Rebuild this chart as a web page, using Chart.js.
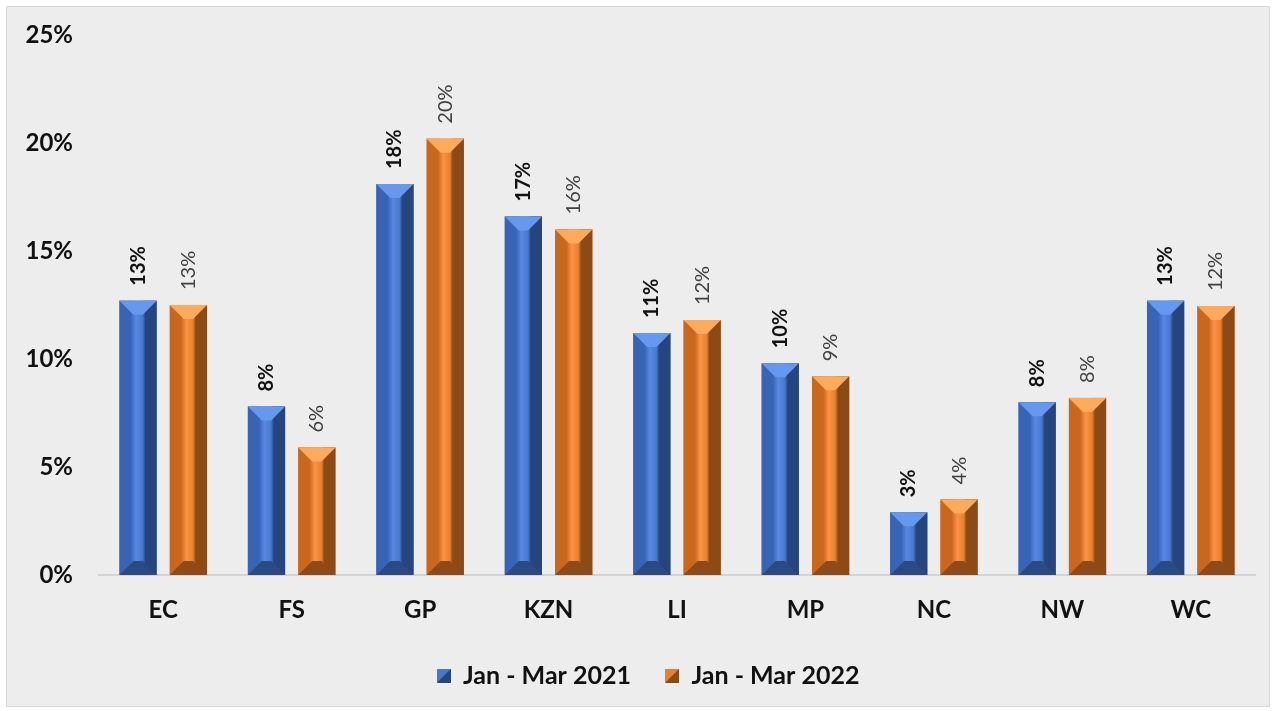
<!DOCTYPE html>
<html>
<head>
<meta charset="utf-8">
<script src="https://cdn.jsdelivr.net/npm/chart.js@4"></script>
<style>
  html, body { margin: 0; padding: 0; background: #ffffff; }
  #wrap {
    position: absolute; left: 6px; top: 6px;
    width: 1262px; height: 699px;
    background: #ededed; border: 1px solid #d9d9d9;
  }
</style>
</head>
<body>
<div id="wrap"><canvas id="barChart"></canvas></div>
<script>
// data
const provinces = ['EC', 'FS', 'GP', 'KZN', 'LI', 'MP', 'NC', 'NW', 'WC'];
const seriesNames = ['Jan - Mar 2021', 'Jan - Mar 2022'];
const values2021 = [12.7, 7.8, 18.1, 16.6, 11.2, 9.8, 2.9, 8.0, 12.7];
const values2022 = [12.5, 5.9, 20.2, 16.0, 11.8, 9.2, 3.5, 8.2, 12.45];
const yTicks = [0, 5, 10, 15, 20, 25];

const FONT = 'Lato, "Open Sans", sans-serif';

// bevel colours: left side, face, highlight, right side, top facet, bottom facet
const shades = [
  ['#3964b6', '#4777cf', '#5889e2', '#26457d', '#6598ee', '#2c4a82'],
  ['#c9671f', '#e97f30', '#fb9444', '#8c4a17', '#ffaa5c', '#8e4a18']
];

// little diagonal squares for the legend
function legendSwatch(s) {
  const c = document.createElement('canvas');
  c.width = 14; c.height = 14;
  const g = c.getContext('2d');
  g.fillStyle = s[1];
  g.beginPath(); g.moveTo(0, 0); g.lineTo(14, 0); g.lineTo(0, 14); g.fill();
  g.fillStyle = s[3];
  g.beginPath(); g.moveTo(14, 0); g.lineTo(14, 14); g.lineTo(0, 14); g.fill();
  return c;
}
const swatches = shades.map(legendSwatch);

// paint the bevel over each bar the library has laid out
const bevelBars = {
  id: 'bevelBars',
  afterDatasetsDraw(chart) {
    const ctx = chart.ctx;
    chart.data.datasets.forEach((ds, i) => {
      const s = shades[i];
      chart.getDatasetMeta(i).data.forEach(bar => {
        const w = bar.width;
        const x = bar.x - w / 2;
        const top = bar.y;
        const bot = bar.base;
        const b = Math.min(14, (bot - top) / 2);
        const e = b / w;
        const grad = ctx.createLinearGradient(x, 0, x + w, 0);
        grad.addColorStop(0, s[0]);
        grad.addColorStop(e * 0.8, s[0]);
        grad.addColorStop(0.45, s[2]);
        grad.addColorStop(1 - e, s[1]);
        grad.addColorStop(1 - e * 0.8, s[3]);
        grad.addColorStop(1, s[3]);
        ctx.save();
        ctx.fillStyle = grad;
        ctx.fillRect(x, top, w, bot - top);
        ctx.fillStyle = s[4];
        ctx.beginPath();
        ctx.moveTo(x, top); ctx.lineTo(x + w, top);
        ctx.lineTo(x + w - b, top + b); ctx.lineTo(x + b, top + b);
        ctx.closePath(); ctx.fill();
        ctx.fillStyle = s[5];
        ctx.beginPath();
        ctx.moveTo(x, bot); ctx.lineTo(x + w, bot);
        ctx.lineTo(x + w - b, bot - b); ctx.lineTo(x + b, bot - b);
        ctx.closePath(); ctx.fill();
        ctx.restore();
      });
    });
  }
};

// rotated value labels above the bars
const valueLabels = {
  id: 'valueLabels',
  afterDatasetsDraw(chart) {
    const ctx = chart.ctx;
    chart.data.datasets.forEach((ds, i) => {
      chart.getDatasetMeta(i).data.forEach((bar, j) => {
        ctx.save();
        ctx.translate(bar.x, bar.y - 15);
        ctx.rotate(-Math.PI / 2);
        ctx.font = (i === 0 ? 'bold ' : '') + '20px ' + FONT;
        ctx.fillStyle = i === 0 ? '#111111' : '#404040';
        ctx.textAlign = 'left';
        ctx.textBaseline = 'middle';
        ctx.fillText(Math.round(ds.data[j]) + '%', 0, 0);
        ctx.restore();
      });
    });
  }
};

// legend sits a little right of centre in the original
const nudgeLegend = {
  id: 'nudgeLegend',
  afterLayout(chart) {
    chart.legend.left += 17;
    chart.legend.right += 17;
  }
};

const ctx = document.getElementById('barChart').getContext('2d');
const barChart = new Chart(ctx, {
  type: 'bar',
  data: {
    labels: provinces,
    datasets: [
      { label: seriesNames[0], data: values2021, backgroundColor: shades[0][1] },
      { label: seriesNames[1], data: values2022, backgroundColor: shades[1][1] }
    ]
  },
  options: {
    responsive: true,
    maintainAspectRatio: false,
    animation: false,
    categoryPercentage: 0.784,
    barPercentage: 0.74,
    layout: { padding: { left: 0, right: 14, top: 28, bottom: 8 } },
    scales: {
      x: {
        grid: { display: false, drawTicks: false },
        border: { display: true, color: '#d4d4d4', width: 2 },
        ticks: { color: '#111111', padding: 21, font: { family: FONT, size: 24, weight: 'bold' } },
        afterFit(scale) { scale.height = 54; }
      },
      y: {
        min: 0,
        max: 25,
        afterBuildTicks(axis) { axis.ticks = yTicks.map(v => ({ value: v })); },
        grid: { display: false, drawTicks: false },
        border: { display: false },
        ticks: {
          color: '#111111',
          padding: 26,
          font: { family: FONT, size: 24, weight: 'bold' },
          callback: v => v + '%'
        },
        afterFit(scale) { scale.width = 92; scale.paddingTop = 0; scale.paddingBottom = 0; }
      }
    },
    plugins: {
      tooltip: { enabled: false },
      legend: {
        position: 'bottom',
        labels: {
          color: '#111111',
          boxWidth: 14,
          boxHeight: 14,
          padding: 34,
          usePointStyle: true,
          font: { family: FONT, size: 25, weight: 'bold' },
          generateLabels(chart) {
            const items = Chart.defaults.plugins.legend.labels.generateLabels(chart);
            items.forEach((it, i) => { it.pointStyle = swatches[i]; });
            return items;
          }
        }
      }
    }
  },
  plugins: [bevelBars, valueLabels, nudgeLegend]
});
</script>
</body>
</html>
